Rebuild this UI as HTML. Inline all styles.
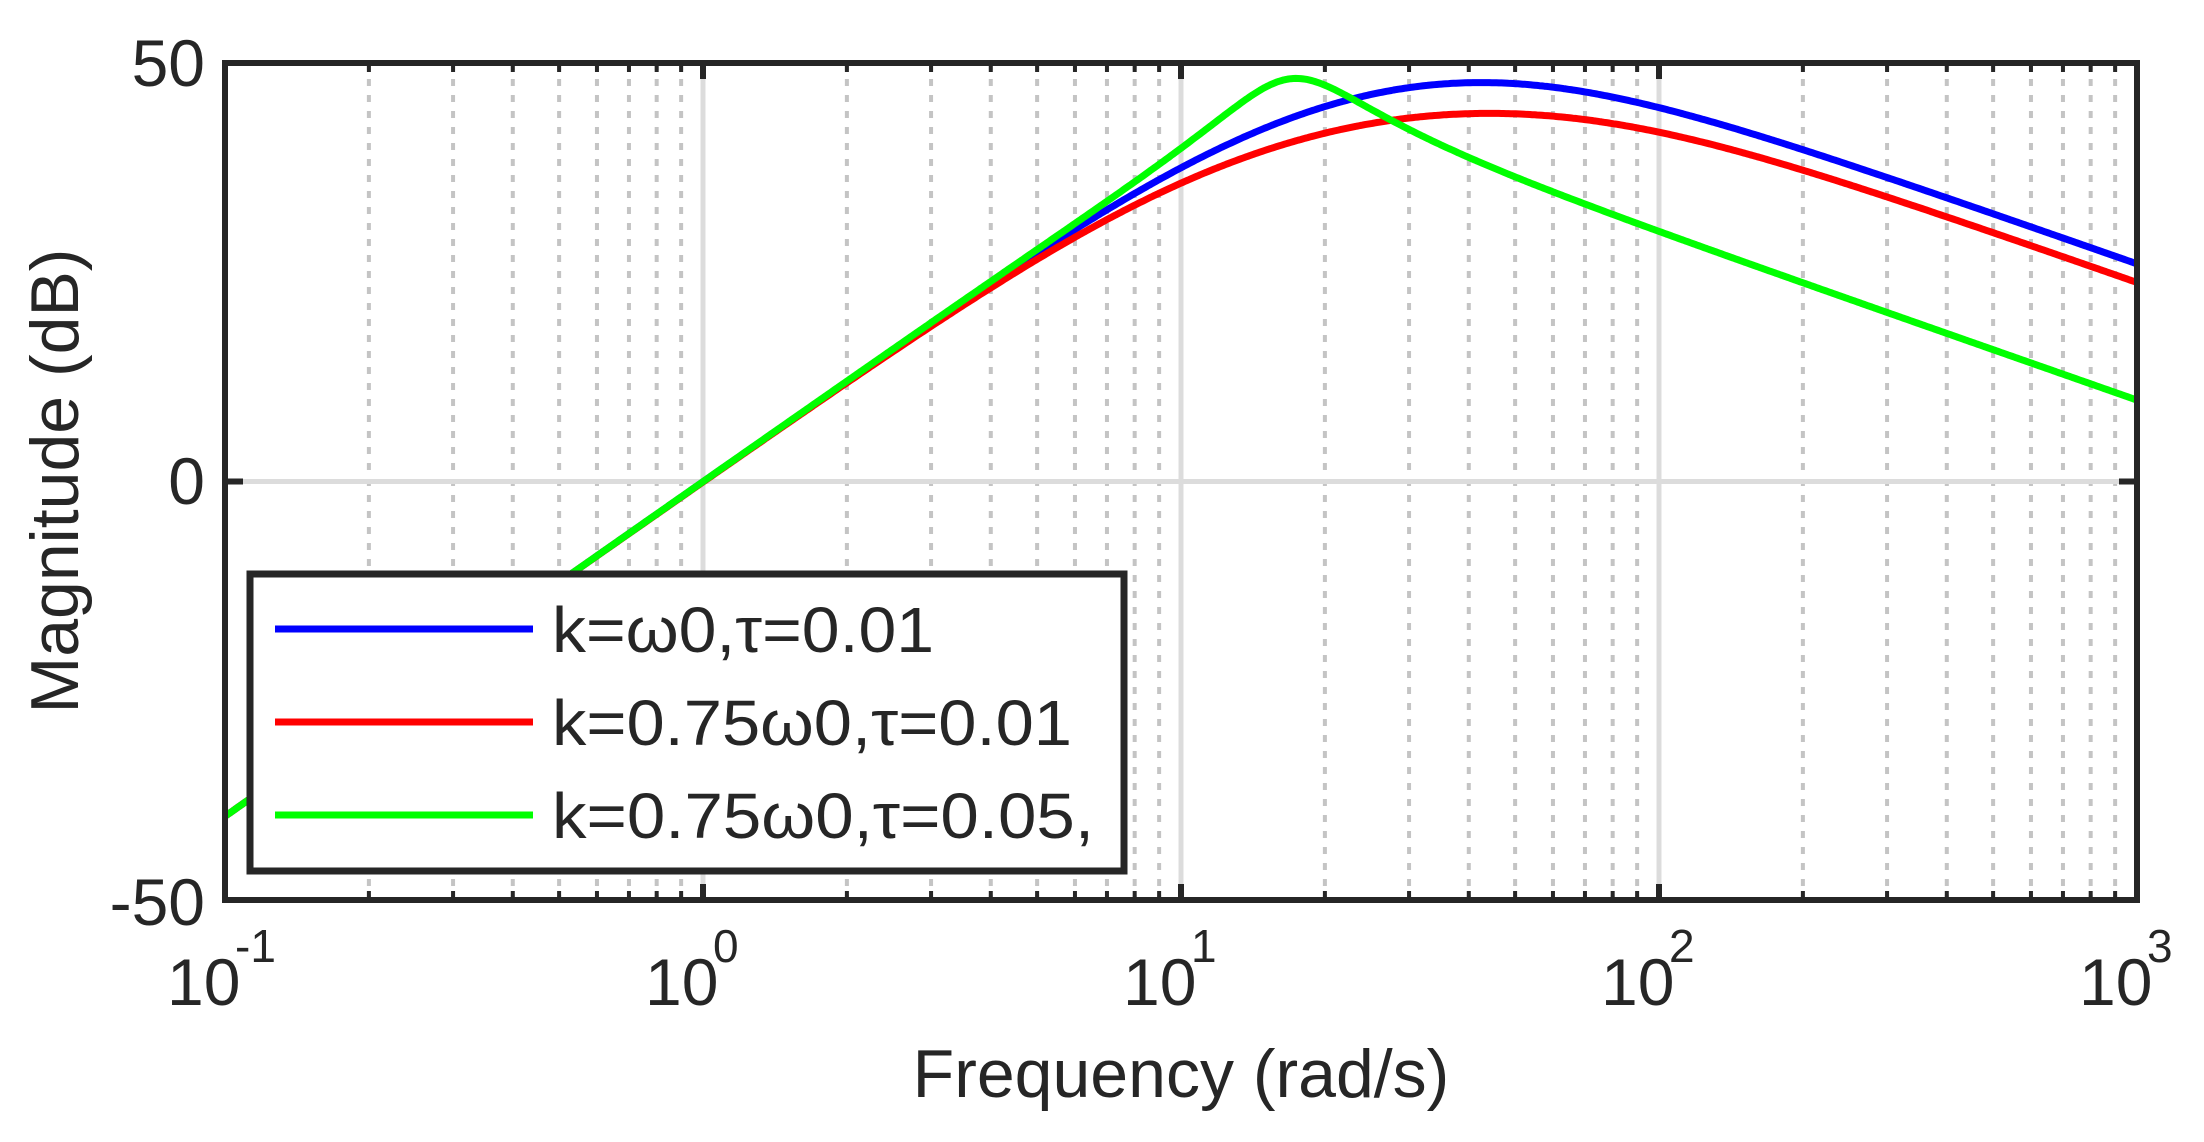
<!DOCTYPE html>
<html><head><meta charset="utf-8"><style>
html,body{margin:0;padding:0;background:#fff;}
svg{display:block;}
text{font-family:"Liberation Sans",Arial,sans-serif;fill:#262626;}
</style></head><body>
<svg id="s" width="2204" height="1142" viewBox="0 0 2204 1142" xmlns="http://www.w3.org/2000/svg">
<g id="grid"></g>
<g id="curves" fill="none" stroke-width="7" stroke-linejoin="round"></g>
<rect x="225" y="63" width="1912" height="837" fill="none" stroke="#262626" stroke-width="6"/>
<g id="ticks" stroke="#262626"></g>
<!-- legend -->
<rect x="250" y="574" width="874" height="297" fill="#fff" stroke="#262626" stroke-width="7"/>
<line x1="275" y1="629" x2="533" y2="629" stroke="#0000ff" stroke-width="7"/>
<line x1="275" y1="722" x2="533" y2="722" stroke="#ff0000" stroke-width="7"/>
<line x1="275" y1="815" x2="533" y2="815" stroke="#00ff00" stroke-width="7"/>
<g font-size="64">
<text x="552" y="652" textLength="382" lengthAdjust="spacingAndGlyphs">k=ω0,τ=0.01</text>
<text x="552" y="745" textLength="520" lengthAdjust="spacingAndGlyphs">k=0.75ω0,τ=0.01</text>
<text x="552" y="838" textLength="542" lengthAdjust="spacingAndGlyphs">k=0.75ω0,τ=0.05,</text>
</g>
<!-- y tick labels -->
<g font-size="66" text-anchor="end">
<text x="205" y="86">50</text>
<text x="205" y="504">0</text>
<text x="205" y="925">-50</text>
</g>
<g id="xl" font-size="66"></g>
<text x="1181" y="1097" font-size="68" text-anchor="middle">Frequency (rad/s)</text>
<text transform="translate(78,481) rotate(-90)" font-size="68" text-anchor="middle">Magnitude (dB)</text>
</svg>
<script>
var NS="http://www.w3.org/2000/svg";
var L=225,R=2137,T=63,B=900,D=478;
function X(w){return L+(Math.log10(w)+1)*D;}
function Y(db){return 481.5-db*8.37;}
function el(p,tag,a){var e=document.createElementNS(NS,tag);for(var k in a)e.setAttribute(k,a[k]);p.appendChild(e);return e;}
var g=document.getElementById('grid'),tk=document.getElementById('ticks');
for(var d=-1;d<3;d++){for(var m=2;m<=9;m++){var x=X(m*Math.pow(10,d));
el(g,'line',{x1:x,y1:T,x2:x,y2:B,stroke:'#c4c4c4','stroke-width':4,'stroke-dasharray':'7 9'});
el(tk,'line',{x1:x,y1:B,x2:x,y2:B-9,'stroke-width':4});el(tk,'line',{x1:x,y1:T,x2:x,y2:T+9,'stroke-width':4});}}
for(var d=0;d<3;d++){var x=X(Math.pow(10,d));el(g,'line',{x1:x,y1:T,x2:x,y2:B,stroke:'#dcdcdc','stroke-width':5});
el(tk,'line',{x1:x,y1:B,x2:x,y2:B-16,'stroke-width':6});el(tk,'line',{x1:x,y1:T,x2:x,y2:T+16,'stroke-width':6});}
el(g,'line',{x1:L,y1:481.5,x2:R,y2:481.5,stroke:'#dcdcdc','stroke-width':5});
el(tk,'line',{x1:L,y1:481.5,x2:L+18,y2:481.5,'stroke-width':6});el(tk,'line',{x1:R,y1:481.5,x2:R-18,y2:481.5,'stroke-width':6});
var xl=document.getElementById('xl');
[-1,0,1,2,3].forEach(function(e){var x=X(Math.pow(10,e));
var t=el(xl,'text',{x:x-58,y:1005});t.textContent='10';
var s=el(xl,'text',{x:x+10,y:962,'font-size':46});s.textContent=String(e);});
function mag(w,wn,z,c){var re=wn*wn-w*w,im=2*z*wn*w;return 20*Math.log10(wn*wn*w*w/(Math.sqrt(re*re+im*im)*Math.sqrt(1+w*w/(c*c))));}
var cv=document.getElementById('curves');
[[25,1.2,32,'#0000ff'],[25,1.6,24.8,'#ff0000'],[17,0.3,10.6,'#00ff00']].forEach(function(p){
var d='';for(var i=0;i<=800;i++){var lw=-1+4*i/800,w=Math.pow(10,lw);d+=(i?'L':'M')+X(w).toFixed(1)+' '+Y(mag(w,p[0],p[1],p[2])).toFixed(1);}
el(cv,'path',{d:d,stroke:p[3]});});
</script>
</body></html>
